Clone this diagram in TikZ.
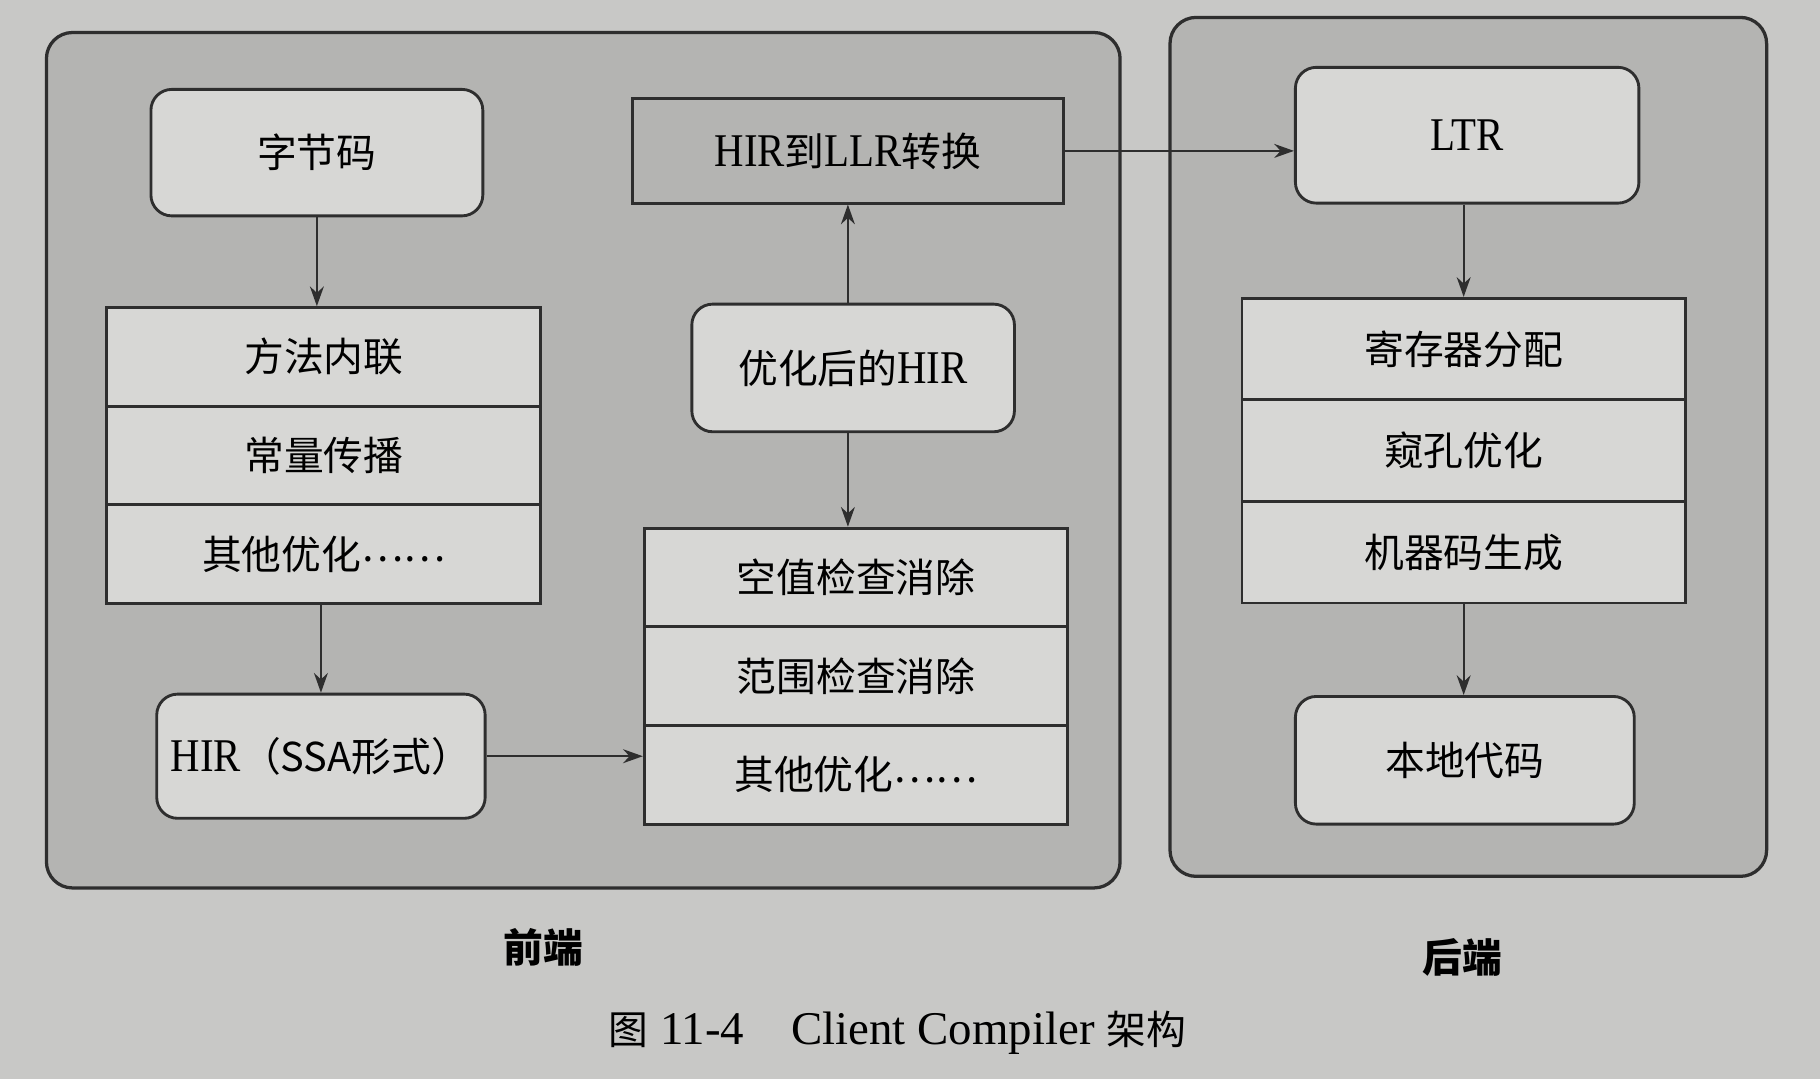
\documentclass[tikz,border=0pt]{standalone}
\usepackage{fontspec}
\setmainfont{Liberation Serif}
\newfontfamily\cjk{Noto Sans CJK SC}
\newfontfamily\narrowlat{Liberation Serif}[FakeStretch=0.87]
\usetikzlibrary{arrows.meta}
\definecolor{paper}{HTML}{C8C8C6}
\definecolor{panelgray}{HTML}{B4B4B2}
\definecolor{boxgray}{HTML}{D7D7D5}
\definecolor{ink}{HTML}{2E2E2E}
\newcommand{\zh}[1]{{\cjk\fontsize{19.5}{23}\selectfont #1}}
\newcommand{\etcdots}{\raisebox{.35ex}{……}}
\tikzset{
  panel/.style={draw=ink, line width=1.6pt, fill=panelgray, rounded corners=0.45cm},
  rbox/.style={draw=ink, line width=1.4pt, fill=boxgray, rounded corners=0.36cm, inner sep=0pt, font=\narrowlat\fontsize{23}{27}\selectfont},
  sbox/.style={draw=ink, line width=1.4pt, fill=boxgray, inner sep=0pt, font=\narrowlat\fontsize{23}{27}\selectfont},
  arr/.style={draw=ink, line width=1pt, -{Stealth[length=0.34cm,width=0.24cm]}},
}
\begin{document}
\begin{tikzpicture}[x=0.02cm,y=-0.02cm]
	%paper
	\fill[paper] (0,0) rectangle (1568,930);
	\useasboundingbox (0,0) rectangle (1568,930);
	%panels
	\draw[panel] (40,28) rectangle (965,765);
	\draw[panel] (1008,15) rectangle (1522,755);
	% front end
	\node[rbox, minimum width=5.72cm, minimum height=2.18cm] (bytecode) at (273,131.5) {\zh{字节码}};
	\foreach \t [count=\i] in {方法内联,常量传播,{其他优化\etcdots}}
		\node[sbox, minimum width=7.48cm, minimum height=1.7cm] (l\i) at (279,{222.5+85*\i}) {\zh{\t}};
	\node[rbox, minimum width=5.66cm, minimum height=2.14cm] (hirssa) at (276.5,651.5) {HIR\zh{（SSA形式）}};
	\node[sbox, fill=panelgray, minimum width=7.42cm, minimum height=1.8cm] (hirllr) at (730.5,130) {HIR\zh{到}LLR\zh{转换}};
	\node[rbox, minimum width=5.56cm, minimum height=2.2cm] (opthir) at (735,317) {\zh{优化后的}HIR};
	\foreach \t [count=\i] in {空值检查消除,范围检查消除,{其他优化\etcdots}}
		\node[sbox, minimum width=7.3cm, minimum height=1.7cm] (m\i) at (737.5,{412.5+85*\i}) {\zh{\t}};
	% back end
	\node[rbox, minimum width=5.92cm, minimum height=2.34cm] (ltr) at (1264,116.5) {LTR};
	\foreach \t [count=\i] in {寄存器分配,窥孔优化,机器码生成}
		\node[sbox, minimum width=7.64cm, minimum height=1.75cm] (r\i) at (1261,{213.25+87.5*\i}) {\zh{\t}};
	\node[rbox, minimum width=5.84cm, minimum height=2.2cm] (native) at (1262,655) {\zh{本地代码}};
	%arrows
	\draw[arr] (bytecode.south) -- (bytecode.south |- l1.north);
	\draw[arr] (hirssa.north |- l3.south) -- (hirssa.north);
	\draw[arr] (hirssa.east) -- (hirssa.east -| m3.west);
	\draw[arr] (hirllr.south |- opthir.north) -- (hirllr.south);
	\draw[arr] (hirllr.south |- opthir.south) -- (hirllr.south |- m1.north);
	\draw[arr] (hirllr.east) -- (hirllr.east -| ltr.west);
	\draw[arr] (ltr.south -| r1.north) -- (r1.north);
	\draw[arr] (r3.south) -- (r3.south |- native.north);
	%labels
	\node (front) at (468,816) {\zh{\bfseries 前端}};
	\node (back) at (1260,825) {\zh{\bfseries 后端}};
	\node (caption) at (773,890) {\fontsize{23}{27}\selectfont\zh{图} 11-4\hspace{1em}Client Compiler \zh{架构}};
\end{tikzpicture}
\end{document}
